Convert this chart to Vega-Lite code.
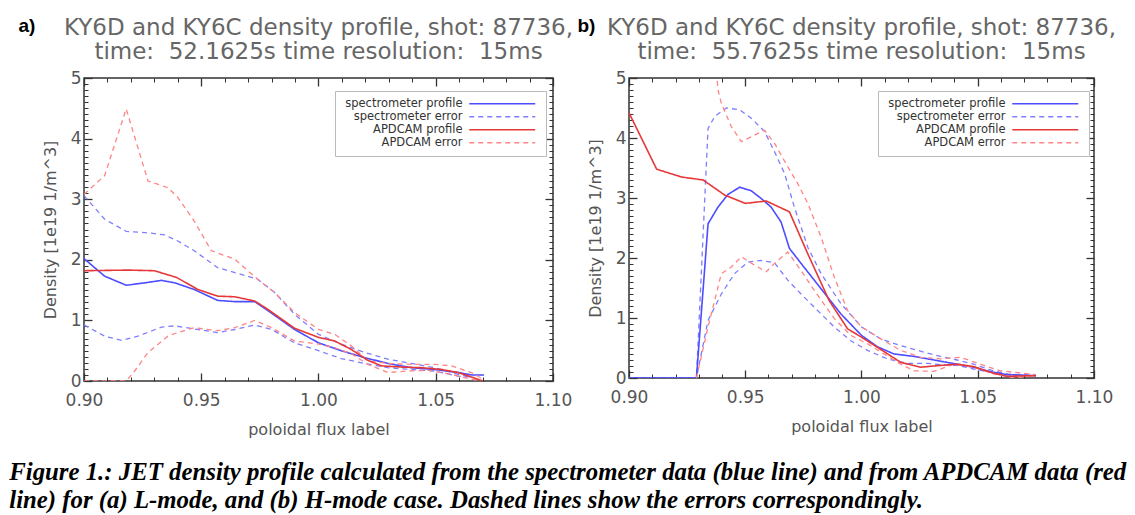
{
"$schema": "https://vega.github.io/schema/vega-lite/v6.json",
"background": "white",
"padding": {"left": 9, "top": 15, "right": 5, "bottom": 5},
"title": {"text": ["Figure 1.: JET density profile calculated from the spectrometer data (blue line) and from APDCAM data (red", "line) for (a) L-mode, and (b) H-mode case. Dashed lines show the errors correspondingly."], "orient": "bottom", "anchor": "start", "frame": "bounds", "dx": -8, "font": "Liberation Serif", "fontSize": 24.8, "fontStyle": "italic", "fontWeight": "bold", "color": "black", "lineHeight": 28, "offset": 22},
"datasets": {
"a": [
{"series":"spectrometer profile","line":"p","x":0.900,"y":2.02},{"series":"spectrometer profile","line":"p","x":0.9088,"y":1.73},{"series":"spectrometer profile","line":"p","x":0.918,"y":1.58},{"series":"spectrometer profile","line":"p","x":0.926,"y":1.62},{"series":"spectrometer profile","line":"p","x":0.933,"y":1.66},{"series":"spectrometer profile","line":"p","x":0.9387,"y":1.62},{"series":"spectrometer profile","line":"p","x":0.947,"y":1.51},{"series":"spectrometer profile","line":"p","x":0.957,"y":1.33},{"series":"spectrometer profile","line":"p","x":0.9643,"y":1.31},{"series":"spectrometer profile","line":"p","x":0.9728,"y":1.31},{"series":"spectrometer profile","line":"p","x":0.9785,"y":1.16},{"series":"spectrometer profile","line":"p","x":0.9898,"y":0.85},{"series":"spectrometer profile","line":"p","x":1.000,"y":0.63},{"series":"spectrometer profile","line":"p","x":1.0097,"y":0.50},{"series":"spectrometer profile","line":"p","x":1.0197,"y":0.385},{"series":"spectrometer profile","line":"p","x":1.0296,"y":0.29},{"series":"spectrometer profile","line":"p","x":1.0396,"y":0.22},{"series":"spectrometer profile","line":"p","x":1.0495,"y":0.19},{"series":"spectrometer profile","line":"p","x":1.0595,"y":0.14},{"series":"spectrometer profile","line":"p","x":1.0652,"y":0.10},{"series":"spectrometer profile","line":"p","x":1.0706,"y":0.10},
{"series":"spectrometer error","line":"u","x":0.900,"y":3.06},{"series":"spectrometer error","line":"u","x":0.9088,"y":2.67},{"series":"spectrometer error","line":"u","x":0.918,"y":2.47},{"series":"spectrometer error","line":"u","x":0.9287,"y":2.44},{"series":"spectrometer error","line":"u","x":0.9344,"y":2.41},{"series":"spectrometer error","line":"u","x":0.940,"y":2.31},{"series":"spectrometer error","line":"u","x":0.947,"y":2.15},{"series":"spectrometer error","line":"u","x":0.957,"y":1.87},{"series":"spectrometer error","line":"u","x":0.9643,"y":1.79},{"series":"spectrometer error","line":"u","x":0.974,"y":1.68},{"series":"spectrometer error","line":"u","x":0.9813,"y":1.46},{"series":"spectrometer error","line":"u","x":0.9898,"y":1.10},{"series":"spectrometer error","line":"u","x":1.000,"y":0.77},{"series":"spectrometer error","line":"u","x":1.0097,"y":0.61},{"series":"spectrometer error","line":"u","x":1.0197,"y":0.47},{"series":"spectrometer error","line":"u","x":1.0296,"y":0.36},{"series":"spectrometer error","line":"u","x":1.0396,"y":0.29},{"series":"spectrometer error","line":"u","x":1.0495,"y":0.22},{"series":"spectrometer error","line":"u","x":1.0595,"y":0.11},{"series":"spectrometer error","line":"u","x":1.0652,"y":0.066},
{"series":"spectrometer error","line":"l","x":0.900,"y":0.925},{"series":"spectrometer error","line":"l","x":0.9088,"y":0.74},{"series":"spectrometer error","line":"l","x":0.916,"y":0.67},{"series":"spectrometer error","line":"l","x":0.923,"y":0.74},{"series":"spectrometer error","line":"l","x":0.933,"y":0.89},{"series":"spectrometer error","line":"l","x":0.9387,"y":0.91},{"series":"spectrometer error","line":"l","x":0.947,"y":0.86},{"series":"spectrometer error","line":"l","x":0.957,"y":0.80},{"series":"spectrometer error","line":"l","x":0.9643,"y":0.85},{"series":"spectrometer error","line":"l","x":0.9728,"y":0.925},{"series":"spectrometer error","line":"l","x":0.980,"y":0.85},{"series":"spectrometer error","line":"l","x":0.9898,"y":0.63},{"series":"spectrometer error","line":"l","x":1.000,"y":0.50},{"series":"spectrometer error","line":"l","x":1.0097,"y":0.37},{"series":"spectrometer error","line":"l","x":1.0197,"y":0.29},{"series":"spectrometer error","line":"l","x":1.0296,"y":0.22},{"series":"spectrometer error","line":"l","x":1.0396,"y":0.19},{"series":"spectrometer error","line":"l","x":1.0495,"y":0.165},{"series":"spectrometer error","line":"l","x":1.0595,"y":0.08},{"series":"spectrometer error","line":"l","x":1.0652,"y":0.066},
{"series":"APDCAM profile","line":"p","x":0.900,"y":1.82},{"series":"APDCAM profile","line":"p","x":0.9188,"y":1.83},{"series":"APDCAM profile","line":"p","x":0.930,"y":1.82},{"series":"APDCAM profile","line":"p","x":0.9394,"y":1.71},{"series":"APDCAM profile","line":"p","x":0.9486,"y":1.51},{"series":"APDCAM profile","line":"p","x":0.957,"y":1.40},{"series":"APDCAM profile","line":"p","x":0.9643,"y":1.39},{"series":"APDCAM profile","line":"p","x":0.9728,"y":1.32},{"series":"APDCAM profile","line":"p","x":0.9785,"y":1.18},{"series":"APDCAM profile","line":"p","x":0.9898,"y":0.87},{"series":"APDCAM profile","line":"p","x":1.000,"y":0.72},{"series":"APDCAM profile","line":"p","x":1.0069,"y":0.66},{"series":"APDCAM profile","line":"p","x":1.014,"y":0.52},{"series":"APDCAM profile","line":"p","x":1.0211,"y":0.34},{"series":"APDCAM profile","line":"p","x":1.0268,"y":0.25},{"series":"APDCAM profile","line":"p","x":1.0353,"y":0.23},{"series":"APDCAM profile","line":"p","x":1.0438,"y":0.22},{"series":"APDCAM profile","line":"p","x":1.0524,"y":0.19},{"series":"APDCAM profile","line":"p","x":1.0595,"y":0.14},{"series":"APDCAM profile","line":"p","x":1.0652,"y":0.066},{"series":"APDCAM profile","line":"p","x":1.0701,"y":0.0},
{"series":"APDCAM error","line":"u","x":0.900,"y":3.08},{"series":"APDCAM error","line":"u","x":0.9088,"y":3.39},{"series":"APDCAM error","line":"u","x":0.918,"y":4.49},{"series":"APDCAM error","line":"u","x":0.9273,"y":3.30},{"series":"APDCAM error","line":"u","x":0.9358,"y":3.19},{"series":"APDCAM error","line":"u","x":0.940,"y":3.03},{"series":"APDCAM error","line":"u","x":0.947,"y":2.64},{"series":"APDCAM error","line":"u","x":0.9543,"y":2.15},{"series":"APDCAM error","line":"u","x":0.9643,"y":2.01},{"series":"APDCAM error","line":"u","x":0.974,"y":1.68},{"series":"APDCAM error","line":"u","x":0.9813,"y":1.46},{"series":"APDCAM error","line":"u","x":0.9898,"y":1.13},{"series":"APDCAM error","line":"u","x":1.000,"y":0.85},{"series":"APDCAM error","line":"u","x":1.0069,"y":0.77},{"series":"APDCAM error","line":"u","x":1.014,"y":0.58},{"series":"APDCAM error","line":"u","x":1.0211,"y":0.33},{"series":"APDCAM error","line":"u","x":1.0296,"y":0.29},{"series":"APDCAM error","line":"u","x":1.0396,"y":0.275},{"series":"APDCAM error","line":"u","x":1.0495,"y":0.275},{"series":"APDCAM error","line":"u","x":1.0566,"y":0.25},{"series":"APDCAM error","line":"u","x":1.0652,"y":0.14},{"series":"APDCAM error","line":"u","x":1.0701,"y":0.03},
{"series":"APDCAM error","line":"l","x":0.900,"y":0.0},{"series":"APDCAM error","line":"l","x":0.918,"y":0.0},{"series":"APDCAM error","line":"l","x":0.9216,"y":0.165},{"series":"APDCAM error","line":"l","x":0.9273,"y":0.47},{"series":"APDCAM error","line":"l","x":0.9358,"y":0.74},{"series":"APDCAM error","line":"l","x":0.940,"y":0.80},{"series":"APDCAM error","line":"l","x":0.947,"y":0.88},{"series":"APDCAM error","line":"l","x":0.957,"y":0.83},{"series":"APDCAM error","line":"l","x":0.9643,"y":0.88},{"series":"APDCAM error","line":"l","x":0.9728,"y":1.00},{"series":"APDCAM error","line":"l","x":0.980,"y":0.88},{"series":"APDCAM error","line":"l","x":0.9898,"y":0.66},{"series":"APDCAM error","line":"l","x":1.000,"y":0.61},{"series":"APDCAM error","line":"l","x":1.0069,"y":0.55},{"series":"APDCAM error","line":"l","x":1.014,"y":0.45},{"series":"APDCAM error","line":"l","x":1.0211,"y":0.275},{"series":"APDCAM error","line":"l","x":1.0296,"y":0.14},{"series":"APDCAM error","line":"l","x":1.0382,"y":0.165},{"series":"APDCAM error","line":"l","x":1.0467,"y":0.176},{"series":"APDCAM error","line":"l","x":1.0566,"y":0.11},{"series":"APDCAM error","line":"l","x":1.0652,"y":0.03},{"series":"APDCAM error","line":"l","x":1.0701,"y":0.0}
],
"b": [
{"series":"spectrometer profile","line":"p","x":0.900,"y":0},{"series":"spectrometer profile","line":"p","x":0.929,"y":0},{"series":"spectrometer profile","line":"p","x":0.934,"y":2.57},{"series":"spectrometer profile","line":"p","x":0.9383,"y":2.85},{"series":"spectrometer profile","line":"p","x":0.9426,"y":3.06},{"series":"spectrometer profile","line":"p","x":0.9476,"y":3.18},{"series":"spectrometer profile","line":"p","x":0.9526,"y":3.12},{"series":"spectrometer profile","line":"p","x":0.9569,"y":2.99},{"series":"spectrometer profile","line":"p","x":0.9611,"y":2.85},{"series":"spectrometer profile","line":"p","x":0.9654,"y":2.60},{"series":"spectrometer profile","line":"p","x":0.969,"y":2.16},{"series":"spectrometer profile","line":"p","x":0.974,"y":1.91},{"series":"spectrometer profile","line":"p","x":0.9797,"y":1.63},{"series":"spectrometer profile","line":"p","x":0.9854,"y":1.35},{"series":"spectrometer profile","line":"p","x":0.9911,"y":1.07},{"series":"spectrometer profile","line":"p","x":1.000,"y":0.71},{"series":"spectrometer profile","line":"p","x":1.0069,"y":0.52},{"series":"spectrometer profile","line":"p","x":1.014,"y":0.40},{"series":"spectrometer profile","line":"p","x":1.0226,"y":0.36},{"series":"spectrometer profile","line":"p","x":1.034,"y":0.28},{"series":"spectrometer profile","line":"p","x":1.0411,"y":0.23},{"series":"spectrometer profile","line":"p","x":1.0483,"y":0.18},{"series":"spectrometer profile","line":"p","x":1.0554,"y":0.106},{"series":"spectrometer profile","line":"p","x":1.0626,"y":0.056},{"series":"spectrometer profile","line":"p","x":1.075,"y":0.04},
{"series":"spectrometer error","line":"u","x":0.900,"y":0},{"series":"spectrometer error","line":"u","x":0.929,"y":0},{"series":"spectrometer error","line":"u","x":0.934,"y":4.16},{"series":"spectrometer error","line":"u","x":0.9369,"y":4.36},{"series":"spectrometer error","line":"u","x":0.9419,"y":4.50},{"series":"spectrometer error","line":"u","x":0.9476,"y":4.47},{"series":"spectrometer error","line":"u","x":0.9526,"y":4.33},{"series":"spectrometer error","line":"u","x":0.9583,"y":4.11},{"series":"spectrometer error","line":"u","x":0.9626,"y":3.77},{"series":"spectrometer error","line":"u","x":0.9669,"y":3.41},{"series":"spectrometer error","line":"u","x":0.9711,"y":2.85},{"series":"spectrometer error","line":"u","x":0.9769,"y":2.18},{"series":"spectrometer error","line":"u","x":0.9826,"y":1.74},{"series":"spectrometer error","line":"u","x":0.9911,"y":1.24},{"series":"spectrometer error","line":"u","x":1.000,"y":0.85},{"series":"spectrometer error","line":"u","x":1.0083,"y":0.65},{"series":"spectrometer error","line":"u","x":1.0169,"y":0.54},{"series":"spectrometer error","line":"u","x":1.0269,"y":0.43},{"series":"spectrometer error","line":"u","x":1.034,"y":0.36},{"series":"spectrometer error","line":"u","x":1.0411,"y":0.30},{"series":"spectrometer error","line":"u","x":1.0483,"y":0.23},{"series":"spectrometer error","line":"u","x":1.0554,"y":0.134},{"series":"spectrometer error","line":"u","x":1.0626,"y":0.067},{"series":"spectrometer error","line":"u","x":1.075,"y":0.04},
{"series":"spectrometer error","line":"l","x":0.900,"y":0},{"series":"spectrometer error","line":"l","x":0.929,"y":0},{"series":"spectrometer error","line":"l","x":0.934,"y":0.96},{"series":"spectrometer error","line":"l","x":0.9397,"y":1.40},{"series":"spectrometer error","line":"l","x":0.9454,"y":1.74},{"series":"spectrometer error","line":"l","x":0.9511,"y":1.93},{"series":"spectrometer error","line":"l","x":0.9569,"y":1.96},{"series":"spectrometer error","line":"l","x":0.9626,"y":1.92},{"series":"spectrometer error","line":"l","x":0.9683,"y":1.63},{"series":"spectrometer error","line":"l","x":0.974,"y":1.40},{"series":"spectrometer error","line":"l","x":0.9811,"y":1.125},{"series":"spectrometer error","line":"l","x":0.9883,"y":0.85},{"series":"spectrometer error","line":"l","x":0.9954,"y":0.62},{"series":"spectrometer error","line":"l","x":1.0026,"y":0.46},{"series":"spectrometer error","line":"l","x":1.0111,"y":0.32},{"series":"spectrometer error","line":"l","x":1.0197,"y":0.245},{"series":"spectrometer error","line":"l","x":1.0283,"y":0.245},{"series":"spectrometer error","line":"l","x":1.034,"y":0.22},{"series":"spectrometer error","line":"l","x":1.0411,"y":0.21},{"series":"spectrometer error","line":"l","x":1.0483,"y":0.15},{"series":"spectrometer error","line":"l","x":1.0554,"y":0.095},{"series":"spectrometer error","line":"l","x":1.0626,"y":0.056},{"series":"spectrometer error","line":"l","x":1.075,"y":0.04},
{"series":"APDCAM profile","line":"p","x":0.900,"y":4.42},{"series":"APDCAM profile","line":"p","x":0.9119,"y":3.48},{"series":"APDCAM profile","line":"p","x":0.9226,"y":3.35},{"series":"APDCAM profile","line":"p","x":0.9319,"y":3.30},{"series":"APDCAM profile","line":"p","x":0.9411,"y":3.05},{"series":"APDCAM profile","line":"p","x":0.950,"y":2.91},{"series":"APDCAM profile","line":"p","x":0.959,"y":2.95},{"series":"APDCAM profile","line":"p","x":0.969,"y":2.77},{"series":"APDCAM profile","line":"p","x":0.9769,"y":2.07},{"series":"APDCAM profile","line":"p","x":0.9861,"y":1.29},{"series":"APDCAM profile","line":"p","x":0.994,"y":0.82},{"series":"APDCAM profile","line":"p","x":1.000,"y":0.68},{"series":"APDCAM profile","line":"p","x":1.0069,"y":0.51},{"series":"APDCAM profile","line":"p","x":1.0169,"y":0.26},{"series":"APDCAM profile","line":"p","x":1.0254,"y":0.18},{"series":"APDCAM profile","line":"p","x":1.034,"y":0.21},{"series":"APDCAM profile","line":"p","x":1.0411,"y":0.23},{"series":"APDCAM profile","line":"p","x":1.0483,"y":0.19},{"series":"APDCAM profile","line":"p","x":1.0554,"y":0.095},{"series":"APDCAM profile","line":"p","x":1.0626,"y":0.028},{"series":"APDCAM profile","line":"p","x":1.075,"y":0.04},
{"series":"APDCAM error","line":"u","x":0.9369,"y":5.4},{"series":"APDCAM error","line":"u","x":0.9383,"y":4.80},{"series":"APDCAM error","line":"u","x":0.9397,"y":4.58},{"series":"APDCAM error","line":"u","x":0.944,"y":4.19},{"series":"APDCAM error","line":"u","x":0.9483,"y":3.94},{"series":"APDCAM error","line":"u","x":0.9526,"y":4.02},{"series":"APDCAM error","line":"u","x":0.9583,"y":4.13},{"series":"APDCAM error","line":"u","x":0.9626,"y":3.91},{"series":"APDCAM error","line":"u","x":0.9683,"y":3.52},{"series":"APDCAM error","line":"u","x":0.9726,"y":3.24},{"series":"APDCAM error","line":"u","x":0.9769,"y":2.91},{"series":"APDCAM error","line":"u","x":0.9826,"y":2.35},{"series":"APDCAM error","line":"u","x":0.9883,"y":1.68},{"series":"APDCAM error","line":"u","x":0.994,"y":1.125},{"series":"APDCAM error","line":"u","x":1.000,"y":0.85},{"series":"APDCAM error","line":"u","x":1.0097,"y":0.62},{"series":"APDCAM error","line":"u","x":1.0169,"y":0.46},{"series":"APDCAM error","line":"u","x":1.0254,"y":0.345},{"series":"APDCAM error","line":"u","x":1.034,"y":0.32},{"series":"APDCAM error","line":"u","x":1.0426,"y":0.345},{"series":"APDCAM error","line":"u","x":1.0511,"y":0.23},{"series":"APDCAM error","line":"u","x":1.0597,"y":0.12},{"series":"APDCAM error","line":"u","x":1.075,"y":0.056},
{"series":"APDCAM error","line":"l","x":0.929,"y":0},{"series":"APDCAM error","line":"l","x":0.934,"y":0.85},{"series":"APDCAM error","line":"l","x":0.9397,"y":1.74},{"series":"APDCAM error","line":"l","x":0.944,"y":1.85},{"series":"APDCAM error","line":"l","x":0.9483,"y":2.02},{"series":"APDCAM error","line":"l","x":0.954,"y":1.88},{"series":"APDCAM error","line":"l","x":0.959,"y":1.77},{"series":"APDCAM error","line":"l","x":0.9626,"y":1.91},{"series":"APDCAM error","line":"l","x":0.9683,"y":2.10},{"series":"APDCAM error","line":"l","x":0.974,"y":1.79},{"series":"APDCAM error","line":"l","x":0.9797,"y":1.46},{"series":"APDCAM error","line":"l","x":0.9883,"y":0.99},{"series":"APDCAM error","line":"l","x":0.9954,"y":0.71},{"series":"APDCAM error","line":"l","x":1.0026,"y":0.57},{"series":"APDCAM error","line":"l","x":1.0097,"y":0.40},{"series":"APDCAM error","line":"l","x":1.0169,"y":0.23},{"series":"APDCAM error","line":"l","x":1.0226,"y":0.12},{"series":"APDCAM error","line":"l","x":1.0311,"y":0.11},{"series":"APDCAM error","line":"l","x":1.0397,"y":0.23},{"series":"APDCAM error","line":"l","x":1.0483,"y":0.18},{"series":"APDCAM error","line":"l","x":1.0569,"y":0.067},{"series":"APDCAM error","line":"l","x":1.0654,"y":0.0},{"series":"APDCAM error","line":"l","x":1.075,"y":0.04}
]
},
"spacing": 2,
"resolve": {"scale": {"color": "independent", "strokeDash": "independent"}, "legend": {"color": "independent", "strokeDash": "independent"}},
"hconcat": [
{
"width": 469, "height": 303,
"title": {"text": ["KY6D and KY6C density profile, shot: 87736,", "time:\u00a0 52.1625s time resolution:\u00a0 15ms"], "anchor": "middle", "frame": "group", "offset": -48, "font": "DejaVu Sans", "fontSize": 23, "fontWeight": "normal", "color": "#666", "lineHeight": 24},
"data": {"name": "a"},
"resolve": {"axis": {"x": "independent", "y": "independent"}},
"layer": [
{"transform": [{"filter": "datum.series === 'spectrometer error'"}],
 "mark": {"type": "line", "clip": true, "strokeWidth": 1.3},
 "encoding": {
  "x": {"field": "x", "type": "quantitative", "scale": {"domain": [0.9, 1.1], "nice": false, "zero": false}, "axis": {"orient": "bottom", "values": [0.9, 0.95, 1, 1.05, 1.1], "format": ".2f", "tickSize": -8, "tickWidth": 1.3, "labelPadding": 19, "title": "poloidal flux label", "titlePadding": 13}},
  "y": {"field": "y", "type": "quantitative", "scale": {"domain": [0, 5], "nice": false}, "axis": {"orient": "left", "values": [0, 1, 2, 3, 4, 5], "format": "d", "tickSize": -8, "tickWidth": 1.3, "labelPadding": 11, "title": "Density [1e19 1/m^3]", "titlePadding": 12}},
  "color": {"field": "series", "type": "nominal", "scale": {"domain": ["spectrometer profile", "spectrometer error", "APDCAM profile", "APDCAM error"], "range": ["#4d4dff", "#7d7dff", "#e63838", "#ff8585"]}, "legend": {"title": null, "orient": "none", "legendX": 251, "legendY": 13, "symbolType": "M-10,0H10", "symbolSize": 43.56, "symbolStrokeWidth": 1.5, "symbolOffset": 154.5, "labelAlign": "right", "labelOffset": -45.5, "labelFont": "DejaVu Sans", "labelFontSize": 11.5, "labelColor": "#333", "fillColor": "white", "strokeColor": "#bbb", "padding": 7, "rowPadding": 0, "labelLimit": 300}},
  "strokeDash": {"field": "series", "type": "nominal", "scale": {"domain": ["spectrometer profile", "spectrometer error", "APDCAM profile", "APDCAM error"], "range": [[1, 0], [5, 4], [1, 0], [5, 4]]}, "legend": {"title": null, "orient": "none", "legendX": 251, "legendY": 13, "symbolType": "M-10,0H10", "symbolSize": 43.56, "symbolStrokeWidth": 1.5, "symbolOffset": 154.5, "labelAlign": "right", "labelOffset": -45.5, "labelFont": "DejaVu Sans", "labelFontSize": 11.5, "labelColor": "#333", "fillColor": "white", "strokeColor": "#bbb", "padding": 7, "rowPadding": 0, "labelLimit": 300}},
  "detail": {"field": "line"}
 }},
{"transform": [{"filter": "datum.series === 'spectrometer profile'"}],
 "mark": {"type": "line", "clip": true, "strokeWidth": 1.6},
 "encoding": {
  "x": {"field": "x", "type": "quantitative", "scale": {"domain": [0.9, 1.1], "nice": false, "zero": false}, "axis": {"orient": "bottom", "values": [0.91, 0.92, 0.93, 0.94, 0.96, 0.97, 0.98, 0.99, 1.01, 1.02, 1.03, 1.04, 1.06, 1.07, 1.08, 1.09], "labels": false, "tickSize": -4, "tickWidth": 1, "title": null}},
  "y": {"field": "y", "type": "quantitative", "scale": {"domain": [0, 5], "nice": false}, "axis": {"orient": "left", "values": [0.1,0.2,0.3,0.4,0.5,0.6,0.7,0.8,0.9,1.1,1.2,1.3,1.4,1.5,1.6,1.7,1.8,1.9,2.1,2.2,2.3,2.4,2.5,2.6,2.7,2.8,2.9,3.1,3.2,3.3,3.4,3.5,3.6,3.7,3.8,3.9,4.1,4.2,4.3,4.4,4.5,4.6,4.7,4.8,4.9], "labels": false, "tickSize": -4, "tickWidth": 1, "title": null}},
  "color": {"field": "series", "type": "nominal", "scale": {"domain": ["spectrometer profile", "spectrometer error", "APDCAM profile", "APDCAM error"], "range": ["#4d4dff", "#7d7dff", "#e63838", "#ff8585"]}},
  "strokeDash": {"field": "series", "type": "nominal", "scale": {"domain": ["spectrometer profile", "spectrometer error", "APDCAM profile", "APDCAM error"], "range": [[1, 0], [5, 4], [1, 0], [5, 4]]}},
  "detail": {"field": "line"}
 }},
{"transform": [{"filter": "datum.series === 'APDCAM error'"}],
 "mark": {"type": "line", "clip": true, "strokeWidth": 1.3},
 "encoding": {
  "x": {"field": "x", "type": "quantitative", "scale": {"domain": [0.9, 1.1], "nice": false, "zero": false}, "axis": {"orient": "top", "values": [0.9, 0.95, 1, 1.05, 1.1], "labels": false, "tickSize": -8, "tickWidth": 1.3, "title": "a)", "titleFont": "Liberation Sans", "titleFontWeight": "bold", "titleFontSize": 19, "titleColor": "black", "titleAngle": 0, "titleAlign": "left", "titleBaseline": "alphabetic", "titleX": -66, "titleY": -47}},
  "y": {"field": "y", "type": "quantitative", "scale": {"domain": [0, 5], "nice": false}, "axis": {"orient": "right", "values": [0, 1, 2, 3, 4, 5], "labels": false, "tickSize": -8, "tickWidth": 1.3, "title": null}},
  "color": {"field": "series", "type": "nominal", "scale": {"domain": ["spectrometer profile", "spectrometer error", "APDCAM profile", "APDCAM error"], "range": ["#4d4dff", "#7d7dff", "#e63838", "#ff8585"]}},
  "strokeDash": {"field": "series", "type": "nominal", "scale": {"domain": ["spectrometer profile", "spectrometer error", "APDCAM profile", "APDCAM error"], "range": [[1, 0], [5, 4], [1, 0], [5, 4]]}},
  "detail": {"field": "line"}
 }},
{"transform": [{"filter": "datum.series === 'APDCAM profile'"}],
 "mark": {"type": "line", "clip": true, "strokeWidth": 1.6},
 "encoding": {
  "x": {"field": "x", "type": "quantitative", "scale": {"domain": [0.9, 1.1], "nice": false, "zero": false}, "axis": {"orient": "top", "values": [0.91, 0.92, 0.93, 0.94, 0.96, 0.97, 0.98, 0.99, 1.01, 1.02, 1.03, 1.04, 1.06, 1.07, 1.08, 1.09], "labels": false, "tickSize": -4, "tickWidth": 1, "title": null}},
  "y": {"field": "y", "type": "quantitative", "scale": {"domain": [0, 5], "nice": false}, "axis": {"orient": "right", "values": [0.1,0.2,0.3,0.4,0.5,0.6,0.7,0.8,0.9,1.1,1.2,1.3,1.4,1.5,1.6,1.7,1.8,1.9,2.1,2.2,2.3,2.4,2.5,2.6,2.7,2.8,2.9,3.1,3.2,3.3,3.4,3.5,3.6,3.7,3.8,3.9,4.1,4.2,4.3,4.4,4.5,4.6,4.7,4.8,4.9], "labels": false, "tickSize": -4, "tickWidth": 1, "title": null}},
  "color": {"field": "series", "type": "nominal", "scale": {"domain": ["spectrometer profile", "spectrometer error", "APDCAM profile", "APDCAM error"], "range": ["#4d4dff", "#7d7dff", "#e63838", "#ff8585"]}},
  "strokeDash": {"field": "series", "type": "nominal", "scale": {"domain": ["spectrometer profile", "spectrometer error", "APDCAM profile", "APDCAM error"], "range": [[1, 0], [5, 4], [1, 0], [5, 4]]}},
  "detail": {"field": "line"}
 }}
]
},
{
"width": 465, "height": 300,
"title": {"text": ["KY6D and KY6C density profile, shot: 87736,", "time:\u00a0 55.7625s time resolution:\u00a0 15ms"], "anchor": "middle", "frame": "group", "offset": -48, "font": "DejaVu Sans", "fontSize": 23, "fontWeight": "normal", "color": "#666", "lineHeight": 24},
"data": {"name": "b"},
"resolve": {"axis": {"x": "independent", "y": "independent"}},
"layer": [
{"transform": [{"filter": "datum.series === 'spectrometer error'"}],
 "mark": {"type": "line", "clip": true, "strokeWidth": 1.3},
 "encoding": {
  "x": {"field": "x", "type": "quantitative", "scale": {"domain": [0.9, 1.1], "nice": false, "zero": false}, "axis": {"orient": "bottom", "values": [0.9, 0.95, 1, 1.05, 1.1], "format": ".2f", "tickSize": -8, "tickWidth": 1.3, "labelPadding": 19, "title": "poloidal flux label", "titlePadding": 13}},
  "y": {"field": "y", "type": "quantitative", "scale": {"domain": [0, 5], "nice": false}, "axis": {"orient": "left", "values": [0, 1, 2, 3, 4, 5], "format": "d", "tickSize": -8, "tickWidth": 1.3, "labelPadding": 11, "title": "Density [1e19 1/m^3]", "titlePadding": 12}},
  "color": {"field": "series", "type": "nominal", "scale": {"domain": ["spectrometer profile", "spectrometer error", "APDCAM profile", "APDCAM error"], "range": ["#4d4dff", "#7d7dff", "#e63838", "#ff8585"]}, "legend": {"title": null, "orient": "none", "legendX": 249, "legendY": 13, "symbolType": "M-10,0H10", "symbolSize": 43.56, "symbolStrokeWidth": 1.5, "symbolOffset": 154.5, "labelAlign": "right", "labelOffset": -45.5, "labelFont": "DejaVu Sans", "labelFontSize": 11.5, "labelColor": "#333", "fillColor": "white", "strokeColor": "#bbb", "padding": 7, "rowPadding": 0, "labelLimit": 300}},
  "strokeDash": {"field": "series", "type": "nominal", "scale": {"domain": ["spectrometer profile", "spectrometer error", "APDCAM profile", "APDCAM error"], "range": [[1, 0], [5, 4], [1, 0], [5, 4]]}, "legend": {"title": null, "orient": "none", "legendX": 249, "legendY": 13, "symbolType": "M-10,0H10", "symbolSize": 43.56, "symbolStrokeWidth": 1.5, "symbolOffset": 154.5, "labelAlign": "right", "labelOffset": -45.5, "labelFont": "DejaVu Sans", "labelFontSize": 11.5, "labelColor": "#333", "fillColor": "white", "strokeColor": "#bbb", "padding": 7, "rowPadding": 0, "labelLimit": 300}},
  "detail": {"field": "line"}
 }},
{"transform": [{"filter": "datum.series === 'spectrometer profile'"}],
 "mark": {"type": "line", "clip": true, "strokeWidth": 1.6},
 "encoding": {
  "x": {"field": "x", "type": "quantitative", "scale": {"domain": [0.9, 1.1], "nice": false, "zero": false}, "axis": {"orient": "bottom", "values": [0.91, 0.92, 0.93, 0.94, 0.96, 0.97, 0.98, 0.99, 1.01, 1.02, 1.03, 1.04, 1.06, 1.07, 1.08, 1.09], "labels": false, "tickSize": -4, "tickWidth": 1, "title": null}},
  "y": {"field": "y", "type": "quantitative", "scale": {"domain": [0, 5], "nice": false}, "axis": {"orient": "left", "values": [0.1,0.2,0.3,0.4,0.5,0.6,0.7,0.8,0.9,1.1,1.2,1.3,1.4,1.5,1.6,1.7,1.8,1.9,2.1,2.2,2.3,2.4,2.5,2.6,2.7,2.8,2.9,3.1,3.2,3.3,3.4,3.5,3.6,3.7,3.8,3.9,4.1,4.2,4.3,4.4,4.5,4.6,4.7,4.8,4.9], "labels": false, "tickSize": -4, "tickWidth": 1, "title": null}},
  "color": {"field": "series", "type": "nominal", "scale": {"domain": ["spectrometer profile", "spectrometer error", "APDCAM profile", "APDCAM error"], "range": ["#4d4dff", "#7d7dff", "#e63838", "#ff8585"]}},
  "strokeDash": {"field": "series", "type": "nominal", "scale": {"domain": ["spectrometer profile", "spectrometer error", "APDCAM profile", "APDCAM error"], "range": [[1, 0], [5, 4], [1, 0], [5, 4]]}},
  "detail": {"field": "line"}
 }},
{"transform": [{"filter": "datum.series === 'APDCAM error'"}],
 "mark": {"type": "line", "clip": true, "strokeWidth": 1.3},
 "encoding": {
  "x": {"field": "x", "type": "quantitative", "scale": {"domain": [0.9, 1.1], "nice": false, "zero": false}, "axis": {"orient": "top", "values": [0.9, 0.95, 1, 1.05, 1.1], "labels": false, "tickSize": -8, "tickWidth": 1.3, "title": "b)", "titleFont": "Liberation Sans", "titleFontWeight": "bold", "titleFontSize": 19, "titleColor": "black", "titleAngle": 0, "titleAlign": "left", "titleBaseline": "alphabetic", "titleX": -52, "titleY": -47}},
  "y": {"field": "y", "type": "quantitative", "scale": {"domain": [0, 5], "nice": false}, "axis": {"orient": "right", "values": [0, 1, 2, 3, 4, 5], "labels": false, "tickSize": -8, "tickWidth": 1.3, "title": null}},
  "color": {"field": "series", "type": "nominal", "scale": {"domain": ["spectrometer profile", "spectrometer error", "APDCAM profile", "APDCAM error"], "range": ["#4d4dff", "#7d7dff", "#e63838", "#ff8585"]}},
  "strokeDash": {"field": "series", "type": "nominal", "scale": {"domain": ["spectrometer profile", "spectrometer error", "APDCAM profile", "APDCAM error"], "range": [[1, 0], [5, 4], [1, 0], [5, 4]]}},
  "detail": {"field": "line"}
 }},
{"transform": [{"filter": "datum.series === 'APDCAM profile'"}],
 "mark": {"type": "line", "clip": true, "strokeWidth": 1.6},
 "encoding": {
  "x": {"field": "x", "type": "quantitative", "scale": {"domain": [0.9, 1.1], "nice": false, "zero": false}, "axis": {"orient": "top", "values": [0.91, 0.92, 0.93, 0.94, 0.96, 0.97, 0.98, 0.99, 1.01, 1.02, 1.03, 1.04, 1.06, 1.07, 1.08, 1.09], "labels": false, "tickSize": -4, "tickWidth": 1, "title": null}},
  "y": {"field": "y", "type": "quantitative", "scale": {"domain": [0, 5], "nice": false}, "axis": {"orient": "right", "values": [0.1,0.2,0.3,0.4,0.5,0.6,0.7,0.8,0.9,1.1,1.2,1.3,1.4,1.5,1.6,1.7,1.8,1.9,2.1,2.2,2.3,2.4,2.5,2.6,2.7,2.8,2.9,3.1,3.2,3.3,3.4,3.5,3.6,3.7,3.8,3.9,4.1,4.2,4.3,4.4,4.5,4.6,4.7,4.8,4.9], "labels": false, "tickSize": -4, "tickWidth": 1, "title": null}},
  "color": {"field": "series", "type": "nominal", "scale": {"domain": ["spectrometer profile", "spectrometer error", "APDCAM profile", "APDCAM error"], "range": ["#4d4dff", "#7d7dff", "#e63838", "#ff8585"]}},
  "strokeDash": {"field": "series", "type": "nominal", "scale": {"domain": ["spectrometer profile", "spectrometer error", "APDCAM profile", "APDCAM error"], "range": [[1, 0], [5, 4], [1, 0], [5, 4]]}},
  "detail": {"field": "line"}
 }}
]
}
],
"config": {
 "view": {"stroke": "#333", "strokeWidth": 1.5},
 "axis": {"grid": false, "domain": false, "labelFont": "DejaVu Sans", "labelFontSize": 17, "labelColor": "#555", "titleFont": "DejaVu Sans", "titleFontSize": 16, "titleColor": "#555", "titleFontWeight": "normal", "tickColor": "#333", "labelFlush": false, "labelOverlap": false}
}
}
